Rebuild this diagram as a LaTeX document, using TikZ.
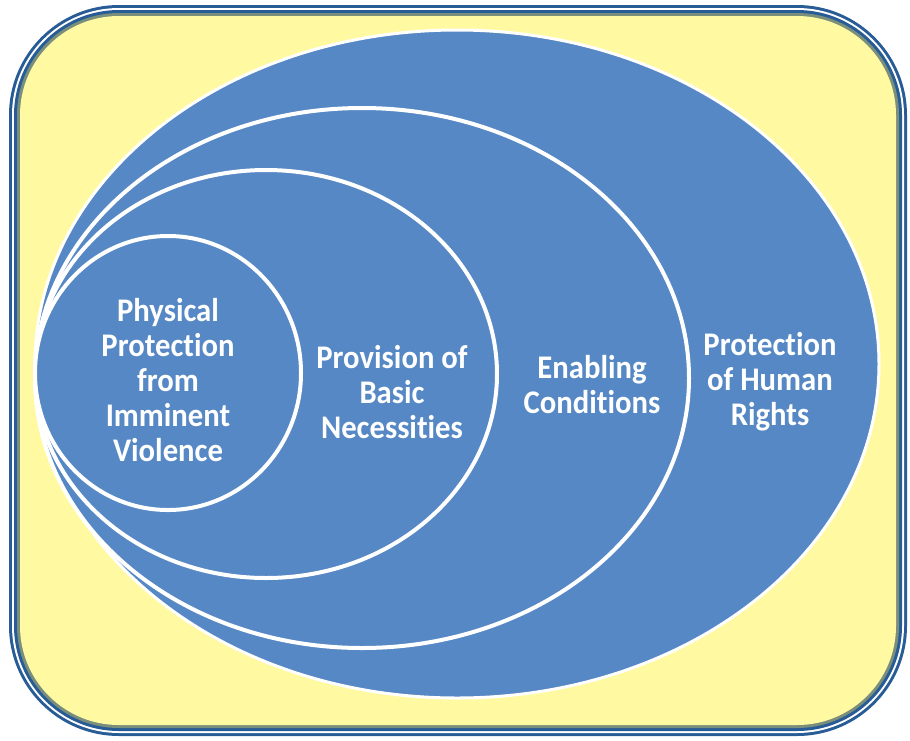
\documentclass[tikz,border=0pt]{standalone}
\usepackage{fontspec}
\setmainfont{Carlito}[Ligatures=NoCommon, FakeStretch=0.93]
\usepackage{xcolor}
\usetikzlibrary{shapes.geometric,positioning}
\definecolor{ringblue}{RGB}{85,136,196}
\definecolor{framedark}{RGB}{40,92,150}
\definecolor{framegray}{RGB}{122,142,124}
\definecolor{paleyellow}{RGB}{255,250,162}

\begin{document}
\begin{tikzpicture}[
  x=1pt, y=-1pt,
  ring/.style={ellipse, draw=white, line width=4pt, fill=ringblue, inner sep=0pt},
  lbl/.style={align=center, text=white, inner sep=0pt, font=\fontsize{33}{35}\selectfont\bfseries},
]
\useasboundingbox (0,0) rectangle (910,740);
% frame: nested rounded boxes
\def\r{110}
\fill[framedark, rounded corners=\r pt]       (9,5)   rectangle (907,736);
\fill[white, rounded corners=\r pt-3pt]       (12,8)  rectangle (904,733);
\fill[framedark, rounded corners=\r pt-5pt]   (14,10) rectangle (902,731);
\fill[framegray, rounded corners=\r pt-8pt]   (17,13) rectangle (899,728);
\fill[paleyellow, rounded corners=\r pt-11pt] (20,16) rectangle (896,725);
% rings, outermost first
\node[ring, line width=3pt, minimum width=844pt, minimum height=668pt] (rights) at (457,364) {};
\node[ring, minimum width=654pt, minimum height=540pt] (enable) at (362,378) {};
\node[ring, minimum width=462pt, minimum height=408pt] (basic)  at (266,374) {};
\node[ring, minimum width=266pt, minimum height=274pt] (phys)   at (168,373) {};
% labels
\node[lbl] (physlbl)   at (168,380) {Physical\\Protection\\from\\Imminent\\Violence};
\node[lbl] (basiclbl)  at (392,392) {Provision of\\Basic\\Necessities};
\node[lbl] (enablelbl) at (592,385) {Enabling\\Conditions};
\node[lbl] (rightslbl) at (770,382) {Protection\\of Human\\Rights};
\end{tikzpicture}
\end{document}
